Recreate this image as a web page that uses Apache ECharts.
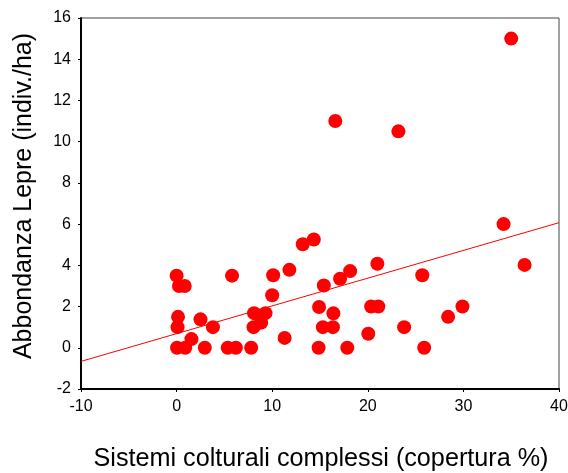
<!DOCTYPE html>
<html>
<head>
<meta charset="utf-8">
<script src="https://cdn.jsdelivr.net/npm/echarts@6/dist/echarts.min.js"></script>
<style>
html,body{margin:0;padding:0;background:#fff;}
#chart{width:568px;height:473px;}
</style>
</head>
<body>
<div id="chart"></div>
<script>
// Sistemi colturali complessi (copertura %)
var coverX = [0, 0.25, 0.85, 5.8, 0.15, 0.1, 2.5, 3.8, 1.55, 0.05, 0.9, 2.95, 5.35, 6.2, 7.8,
  8.1, 9.3, 8.05, 8.85, 10.0, 10.1, 11.8, 11.3, 13.2, 14.35, 14.85, 14.9, 15.4, 15.3, 16.35,
  16.4, 17.1, 18.15, 17.85, 16.6, 20.35, 21.1, 20.05, 21.0, 23.2, 23.8, 25.7, 25.9, 28.4,
  29.9, 34.2, 35.0, 36.4];
// Abbondanza Lepre (indiv./ha)
var hareY = [3.5, 3.0, 3.0, 3.5, 1.5, 1.0, 1.38, 1.0, 0.42, 0, 0, 0, 0, 0, 0,
  1.68, 1.68, 1.0, 1.22, 2.55, 3.52, 3.78, 0.48, 5.02, 5.25, 0, 1.98, 3.02, 1.0, 1.0,
  1.67, 3.35, 3.72, 0, 11.0, 2.0, 2.0, 0.68, 4.08, 10.5, 1.0, 3.52, 0, 1.5,
  2.0, 6.0, 15.0, 4.02];
// fitted regression line end points
var fitX = [-10, 40];
var fitY = [-0.66, 6.07];
var xTicks = [-10, 0, 10, 20, 30, 40];
var yTicks = [-2, 0, 2, 4, 6, 8, 10, 12, 14, 16];
var xTitle = 'Sistemi colturali complessi (copertura %)';
var yTitle = 'Abbondanza Lepre (indiv./ha)';

var points = coverX.map(function (x, i) { return [x, hareY[i]]; });
var fitData = fitX.map(function (x, i) { return [x, fitY[i]]; });

var chart = echarts.init(document.getElementById('chart'), null, {renderer: 'canvas'});
var fontFam = '"Liberation Sans", Arial, sans-serif';
chart.setOption({
  animation: false,
  backgroundColor: '#ffffff',
  grid: {left: 81, right: 9, top: 18, bottom: 84, containLabel: false, outerBoundsMode: 'none',
    show: true, borderColor: '#444', borderWidth: 1, backgroundColor: 'transparent'},
  graphic: [
    {type: 'text', x: 321, y: 459.5, silent: true,
      style: {text: xTitle, fontFamily: fontFam, fontSize: 25.2, fill: '#000', align: 'center', verticalAlign: 'middle'}},
    {type: 'text', x: 24.5, y: 196, rotation: Math.PI / 2, silent: true,
      style: {text: yTitle, fontFamily: fontFam, fontSize: 25, fill: '#000', align: 'center', verticalAlign: 'middle'}}
  ],
  xAxis: {
    type: 'value', min: xTicks[0], max: xTicks[xTicks.length - 1], interval: 10,
    axisLine: {onZero: false, lineStyle: {color: '#000', width: 2}},
    axisTick: {show: true, inside: false, length: 3, lineStyle: {color: '#000', width: 1}},
    axisLabel: {margin: 10, fontFamily: fontFam, fontSize: 16, color: '#000'},
    splitLine: {show: false}
  },
  yAxis: {
    type: 'value', min: yTicks[0], max: yTicks[yTicks.length - 1], interval: 2,
    axisLine: {onZero: false, lineStyle: {color: '#000', width: 2}},
    axisTick: {show: true, inside: false, length: 3, lineStyle: {color: '#000', width: 1}},
    axisLabel: {margin: 10, fontFamily: fontFam, fontSize: 16, color: '#000'},
    splitLine: {show: false}
  },
  series: [
    {
      type: 'line', data: fitData, symbol: 'none', silent: true,
      lineStyle: {color: '#ff0000', width: 1}, z: 2
    },
    {
      type: 'scatter', data: points, symbol: 'circle', symbolSize: 14,
      itemStyle: {color: '#ff0000', opacity: 1}, z: 3
    }
  ]
});
</script>
</body>
</html>
